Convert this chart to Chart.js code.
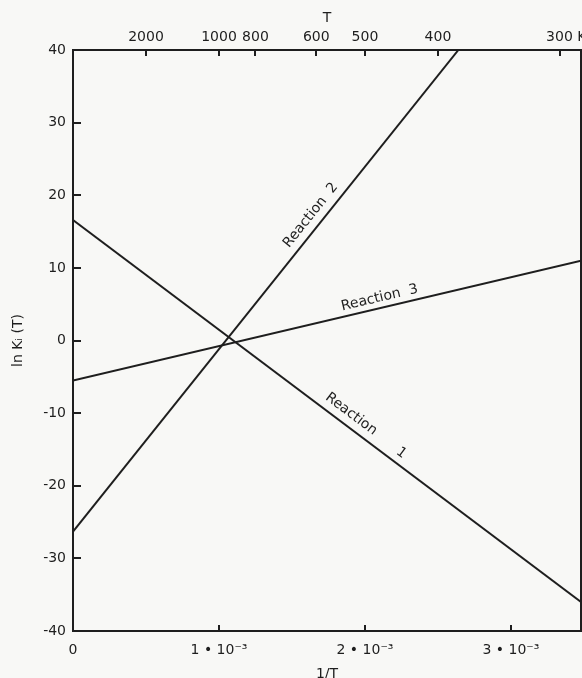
<!DOCTYPE html>
<html>
<head>
<meta charset="utf-8">
<script src="https://cdn.jsdelivr.net/npm/chart.js@4.4.0/dist/chart.umd.min.js"></script>
<style>
  html, body { margin: 0; padding: 0; background: #f8f8f6; }
  #wrap { width: 582px; height: 678px; }
</style>
</head>
<body>
<div id="wrap"><canvas id="chart" width="582" height="678"></canvas></div>
<script>
// values (x is 1/T)
const reaction1X = [0, 0.00348];
const reaction1Y = [16.6, -36.0];
const reaction2X = [0, 0.00264];
const reaction2Y = [-26.3, 40.0];
const reaction3X = [0, 0.00348];
const reaction3Y = [-5.5, 11.0];

const bottomTicks = [0, 0.001, 0.002, 0.003];
const topTemps = [2000, 1000, 800, 600, 500, 400, 300];
const yTicks = [-40, -30, -20, -10, 0, 10, 20, 30, 40];

const xMax = 0.00348;
const ink = "#1e1e1e";
const fontFamily = "'DejaVu Sans', sans-serif";

function toPoints(xs, ys) {
  return xs.map((x, i) => ({ x: x, y: ys[i] }));
}

function bottomLabel(value) {
  if (value === 0) return "0";
  return Math.round(value * 1000) + " \u2022 10\u207B\u00B3";
}

function topLabel(value) {
  const t = Math.round(1 / value);
  if (t === 300) return "\u2007 300 K";
  return String(t);
}

// text along the lines, anchored on the line at a given 1/T
const lineLabels = [
  { text: "Reaction", ds: 0, at: 0.001856, offset: 12 },
  { text: "1", ds: 0, at: 0.002203, offset: 11 },
  { text: "Reaction  2", ds: 1, at: 0.001693, offset: 12 },
  { text: "Reaction  3", ds: 2, at: 0.002116, offset: 10 }
];

const lineLabelPlugin = {
  id: "lineLabels",
  afterDatasetsDraw(chart) {
    const ctx = chart.ctx;
    const xs = chart.scales.x;
    const ys = chart.scales.y;
    ctx.save();
    ctx.fillStyle = ink;
    ctx.font = "14px " + fontFamily;
    ctx.textAlign = "center";
    ctx.textBaseline = "middle";
    lineLabels.forEach(lab => {
      const pts = chart.data.datasets[lab.ds].data;
      const a = pts[0], b = pts[pts.length - 1];
      const yv = a.y + (b.y - a.y) * (lab.at - a.x) / (b.x - a.x);
      const ax = xs.getPixelForValue(a.x), ay = ys.getPixelForValue(a.y);
      const bx = xs.getPixelForValue(b.x), by = ys.getPixelForValue(b.y);
      const angle = Math.atan2(by - ay, bx - ax);
      ctx.save();
      ctx.translate(xs.getPixelForValue(lab.at), ys.getPixelForValue(yv));
      ctx.rotate(angle);
      ctx.fillText(lab.text, 0, -lab.offset);
      ctx.restore();
    });
    ctx.restore();
  }
};

function lineDataset(xs, ys) {
  return {
    data: toPoints(xs, ys),
    showLine: true,
    borderColor: ink,
    borderWidth: 2,
    pointRadius: 0,
    fill: false
  };
}

// fixed box sizes so the plot area sits where it does in the figure
function fixX(h) {
  return s => { s.height = h; s.paddingLeft = 0; s.paddingRight = 0; };
}
function fixY(w) {
  return s => { s.width = w; s.paddingTop = 0; s.paddingBottom = 0; };
}

const tickFont = { family: fontFamily, size: 14 };
const titleFont = { family: fontFamily, size: 14 };

new Chart(document.getElementById("chart").getContext("2d"), {
  type: "scatter",
  data: {
    datasets: [
      lineDataset(reaction1X, reaction1Y),
      lineDataset(reaction2X, reaction2Y),
      lineDataset(reaction3X, reaction3Y)
    ]
  },
  options: {
    responsive: false,
    animation: false,
    layout: { padding: 0 },
    plugins: {
      legend: { display: false },
      tooltip: { enabled: false }
    },
    scales: {
      x: {
        type: "linear",
        position: "bottom",
        min: 0,
        max: xMax,
        afterBuildTicks: s => { s.ticks = bottomTicks.map(v => ({ value: v })); },
        afterFit: fixX(47),
        ticks: { callback: bottomLabel, font: tickFont, color: ink, padding: 17, maxRotation: 0, autoSkip: false },
        grid: { drawOnChartArea: false, tickLength: -6, color: ink, lineWidth: 2 },
        border: { color: ink, width: 2 },
        title: { display: true, text: "1/T", font: titleFont, color: ink, padding: { bottom: -4.4 } }
      },
      xTop: {
        type: "linear",
        position: "top",
        min: 0,
        max: xMax,
        afterBuildTicks: s => { s.ticks = topTemps.map(t => ({ value: 1 / t })); },
        afterFit: fixX(50),
        ticks: { callback: topLabel, font: tickFont, color: ink, padding: 10, maxRotation: 0, autoSkip: false },
        grid: { drawOnChartArea: false, tickLength: -6, color: ink, lineWidth: 2 },
        border: { color: ink, width: 2 },
        title: { display: true, text: "T", font: titleFont, color: ink, padding: { top: 9.6 } }
      },
      y: {
        type: "linear",
        position: "left",
        min: -40,
        max: 40,
        afterBuildTicks: s => { s.ticks = yTicks.map(v => ({ value: v })); },
        afterFit: fixY(73),
        ticks: { callback: v => String(v), font: tickFont, color: ink, padding: 15, autoSkip: false },
        grid: { drawOnChartArea: false, tickLength: -8, color: ink, lineWidth: 2 },
        border: { color: ink, width: 2 },
        title: { display: true, text: "ln K\u1D62 (T)", font: titleFont, color: ink, padding: { top: 9.6 } }
      },
      yRight: {
        type: "linear",
        position: "right",
        min: -40,
        max: 40,
        afterFit: fixY(1),
        ticks: { display: false },
        grid: { drawOnChartArea: false, drawTicks: false },
        border: { color: ink, width: 2 }
      }
    }
  },
  plugins: [lineLabelPlugin]
});
</script>
</body>
</html>
